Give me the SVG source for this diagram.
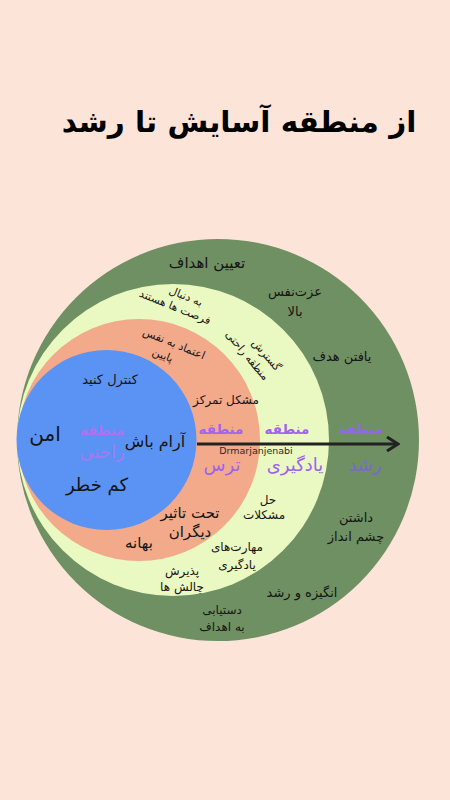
<svg xmlns="http://www.w3.org/2000/svg" width="450" height="800" viewBox="0 0 450 800">
<defs>
<style>
text{font-family:"DejaVu Sans",sans-serif;text-anchor:middle;fill:#151515}
.t13{font-size:13px}
.t12{font-size:12px}
.t11{font-size:11px}
.t15{font-size:15px}
.t18{font-size:18px}
.t20{font-size:20px}
.zb{font-weight:bold;font-size:13.5px;fill:#a165ef}
.zr{font-size:18px;fill:#9c62ee}
.zg{fill:#8c6be3}
.zg2{fill:#7a67d6}
</style>
<marker id="ah" viewBox="0 0 14 16" refX="12" refY="8" markerWidth="14" markerHeight="16" markerUnits="userSpaceOnUse" orient="auto">
<path d="M1,1 L12,8 L1,15" fill="none" stroke="#222" stroke-width="3"/>
</marker>
</defs>
<rect width="450" height="800" fill="#fde4d9"/>
<text x="239" y="132" style="font-size:29.5px;font-weight:bold;fill:#000">از منطقه آسایش تا رشد</text>

<g id="growth-zone">
<circle cx="218" cy="440" r="201" fill="#6f9062"/>
<text class="t15" x="207" y="268">تعیین اهداف</text>
<text class="t13" x="295" y="296">عزت‌نفس</text>
<text class="t13" x="295" y="316">بالا</text>
<text class="t13" x="342" y="361">یافتن هدف</text>
<text class="t13" x="356" y="522">داشتن</text>
<text class="t13" x="356" y="541">چشم انداز</text>
<text class="t13" x="302" y="597">انگیزه و رشد</text>
<text class="t12" x="222" y="614">دستیابی</text>
<text class="t12" x="222" y="631">به اهداف</text>
</g>

<g id="learning-zone">
<circle cx="173" cy="440" r="156" fill="#eaf8c2"/>
<g transform="rotate(22 186 296)">
<text class="t11" x="186" y="300">به دنبال</text>
<text class="t11" x="180" y="314">فرصت ها هستند</text>
</g>
<g transform="rotate(50 256 356)">
<text class="t11" x="262" y="351">گسترش</text>
<text class="t11" x="250" y="366">منطقه راحتی</text>
</g>
<text class="t12" x="268" y="504">حل</text>
<text class="t12" x="264" y="519">مشکلات</text>
<text class="t12" x="237" y="551">مهارت‌های</text>
<text class="t12" x="237" y="569">یادگیری</text>
<text class="t12" x="182" y="575">پذیرش</text>
<text class="t12" x="182" y="591">چالش ها</text>
</g>

<g id="fear-zone">
<circle cx="139" cy="440" r="121" fill="#f2aa8a"/>
<g transform="rotate(22 170 348)">
<text class="t11" x="172" y="346">اعتماد به نفس</text>
<text class="t11" x="166" y="361">پایین</text>
</g>
<text class="t12" x="226" y="404">مشکل تمرکز</text>
<text class="t15" x="190" y="518">تحت تاثیر</text>
<text class="t15" x="190" y="537">دیگران</text>
<text class="t15" x="139" y="548">بهانه</text>
</g>

<g id="comfort-zone">
<circle cx="106.5" cy="440" r="90" fill="#5b93f4"/>
<text class="t13" x="110" y="384">کنترل کنید</text>
<text class="t20" x="45" y="441">امن</text>
<text class="zb" x="102" y="435" style="fill:#b070f2">منطقه</text>
<text class="zr" x="102" y="458" style="fill:#a878ef">راحتی</text>
<text x="155" y="447" style="font-size:16px">آرام باش</text>
<text x="97" y="491" style="font-size:18px">کم خطر</text>
</g>

<g id="connectors">
<line x1="197" y1="444" x2="398" y2="444" stroke="#222" stroke-width="3" marker-end="url(#ah)"/>
</g>

<g id="zone-labels">
<text class="zb" x="221" y="434">منطقه</text>
<text class="zr" x="222" y="471">ترس</text>
<text class="zb" x="287" y="434">منطقه</text>
<text class="zr" x="295" y="471">یادگیری</text>
<text class="zb zg" x="361" y="434">منطقه</text>
<text class="zr zg2" x="365" y="471">رشد</text>
<text x="256" y="454" style="font-size:9.5px;fill:#2a2a2a">Drmarjanjenabi</text>
</g>
</svg>
